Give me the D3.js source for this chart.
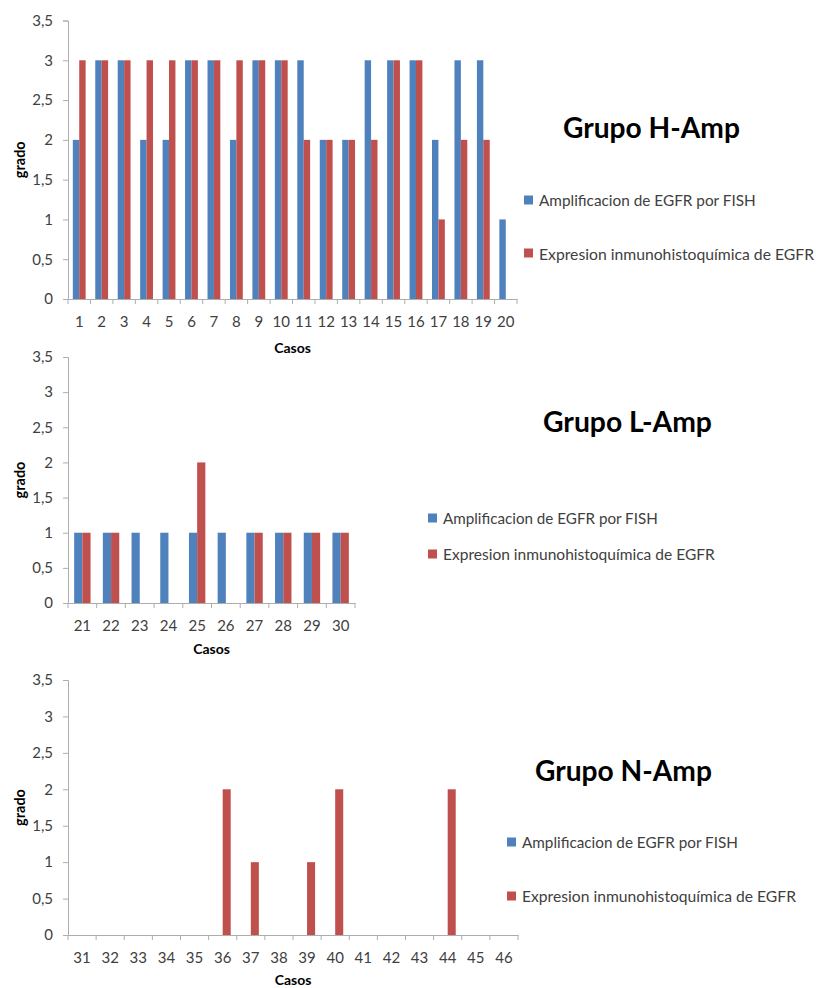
<!DOCTYPE html>
<html>
<head>
<meta charset="utf-8">
<script src="https://cdn.jsdelivr.net/npm/d3@7"></script>
<style>
  html, body { margin: 0; padding: 0; background: #ffffff; }
  svg { display: block; }
  text { font-family: Lato, "Open Sans", sans-serif; }
</style>
</head>
<body>
<svg id="chart" width="816" height="988"></svg>
<script>
// ---- data -------------------------------------------------------------
const seriesNames = ["Amplificacion de EGFR por FISH", "Expresion inmunohistoquímica de EGFR"];
const yTicks = [0, 0.5, 1, 1.5, 2, 2.5, 3, 3.5];

const hCases = ["1","2","3","4","5","6","7","8","9","10","11","12","13","14","15","16","17","18","19","20"];
const hFish  = [2,3,3,2,2,3,3,2,3,3,3,2,2,3,3,3,2,3,3,1];
const hIhc   = [3,3,3,3,3,3,3,3,3,3,2,2,2,2,3,3,1,2,2,0];

const lCases = ["21","22","23","24","25","26","27","28","29","30"];
const lFish  = [1,1,1,1,1,1,1,1,1,1];
const lIhc   = [1,1,0,0,2,0,1,1,1,1];

const nCases = ["31","32","33","34","35","36","37","38","39","40","41","42","43","44","45","46"];
const nFish  = [0,0,0,0,0,0,0,0,0,0,0,0,0,0,0,0];
const nIhc   = [0,0,0,0,0,2,1,0,1,2,0,0,0,2,0,0];

// ---- style ------------------------------------------------------------
const colors = ["#4F81BD", "#C0504D"];
const axisColor = "#ADADAD";
const labelColor = "#404040";
const locale = d3.formatLocale({ decimal: ",", thousands: ".", grouping: [3], currency: ["", "€"] });
const fmt = v => locale.format("~g")(v);

const svg = d3.select("#chart");

// scale a text's font size so its rendered width equals the given width
function fitWidth(sel, width) {
  const fs = parseFloat(sel.attr("font-size"));
  const w = sel.node().getComputedTextLength();
  sel.attr("font-size", (fs * width / w).toFixed(2));
}

function drawPanel(p) {
  const g = svg.append("g");
  const x = d3.scaleBand().domain(p.cases).range([p.x0, p.x1]).padding(0);
  const xs = d3.scaleBand().domain([0, 1]).range([0, x.bandwidth()])
               .paddingInner(0).paddingOuter(0.75);
  const y = d3.scaleLinear().domain([0, 3.5]).range([p.yBottom, p.yTop]);

  // bars
  const rows = p.cases.map((c, i) => ({ c, v: [p.fish[i], p.ihc[i]] }));
  const grp = g.selectAll("g.case").data(rows).join("g")
    .attr("transform", d => `translate(${x(d.c)},0)`);
  grp.selectAll("rect").data(d => d.v.map((v, k) => ({ v, k }))).join("rect")
    .attr("x", d => xs(d.k))
    .attr("width", xs.bandwidth())
    .attr("y", d => y(d.v))
    .attr("height", d => y(0) - y(d.v))
    .attr("fill", d => colors[d.k]);

  // y axis
  const ya = g.append("g").attr("transform", `translate(${p.x0},0)`)
    .call(d3.axisLeft(y).tickValues(yTicks).tickFormat(fmt).tickSize(5).tickPadding(10));
  ya.select(".domain").attr("stroke", axisColor);
  ya.selectAll(".tick line").attr("stroke", axisColor);
  ya.selectAll(".tick text").attr("font-size", 15).attr("fill", labelColor)
    .attr("font-family", "Lato, sans-serif");

  // x axis: labels centred in each slot, tick marks at slot boundaries
  const xa = g.append("g").attr("transform", `translate(0,${p.yBottom})`)
    .call(d3.axisBottom(x).tickSize(0).tickPadding(17));
  xa.select(".domain").attr("stroke", axisColor);
  xa.selectAll(".tick text").attr("font-size", 15).attr("fill", labelColor)
    .attr("font-family", "Lato, sans-serif");
  const bounds = p.cases.map(c => x(c)).concat([x.range()[1]]);
  g.append("g").selectAll("line").data(bounds).join("line")
    .attr("x1", d => d).attr("x2", d => d)
    .attr("y1", p.yBottom).attr("y2", p.yBottom + 5)
    .attr("stroke", axisColor);

  // axis titles
  g.append("text")
    .attr("transform", `translate(19,${(p.yTop + p.yBottom) / 2}) rotate(-90)`)
    .attr("text-anchor", "middle").attr("dominant-baseline", "central")
    .attr("font-size", 14.5).attr("font-weight", "bold").attr("fill", "#000")
    .text("grado");
  g.append("text")
    .attr("x", (p.x0 + p.x1) / 2).attr("y", p.yBottom + p.casosDy)
    .attr("text-anchor", "middle").attr("dominant-baseline", "central")
    .attr("font-size", 14).attr("font-weight", "bold").attr("fill", "#000")
    .text("Casos");

  // title
  const t = g.append("text")
    .attr("x", p.titleX).attr("y", p.titleY)
    .attr("font-size", 24).attr("font-weight", "bold").attr("fill", "#000")
    .text(p.title);
  fitWidth(t, p.titleW);

  // legend
  seriesNames.forEach((name, k) => {
    const cy = p.legY[k];
    g.append("rect").attr("x", p.legX).attr("y", cy - 4.5)
      .attr("width", 9).attr("height", 9).attr("fill", colors[k]);
    const lt = g.append("text").attr("x", p.legX + 15).attr("y", cy)
      .attr("dominant-baseline", "central")
      .attr("font-size", 14).attr("fill", labelColor).text(name);
    fitWidth(lt, p.legW[k]);
  });
}

drawPanel({
  cases: hCases, fish: hFish, ihc: hIhc,
  x0: 68, x1: 517, yTop: 20.5, yBottom: 299, casosDy: 48,
  title: "Grupo H-Amp", titleX: 563, titleY: 138, titleW: 177,
  legX: 524, legY: [200, 253], legW: [217, 275]
});
drawPanel({
  cases: lCases, fish: lFish, ihc: lIhc,
  x0: 68, x1: 355, yTop: 357, yBottom: 603, casosDy: 45,
  title: "Grupo L-Amp", titleX: 543, titleY: 432, titleW: 169,
  legX: 428, legY: [518, 554], legW: [215, 272]
});
drawPanel({
  cases: nCases, fish: nFish, ihc: nIhc,
  x0: 68, x1: 518, yTop: 680, yBottom: 935, casosDy: 44,
  title: "Grupo N-Amp", titleX: 535, titleY: 781, titleW: 177,
  legX: 507, legY: [842, 896], legW: [216, 274]
});
</script>
</body>
</html>
